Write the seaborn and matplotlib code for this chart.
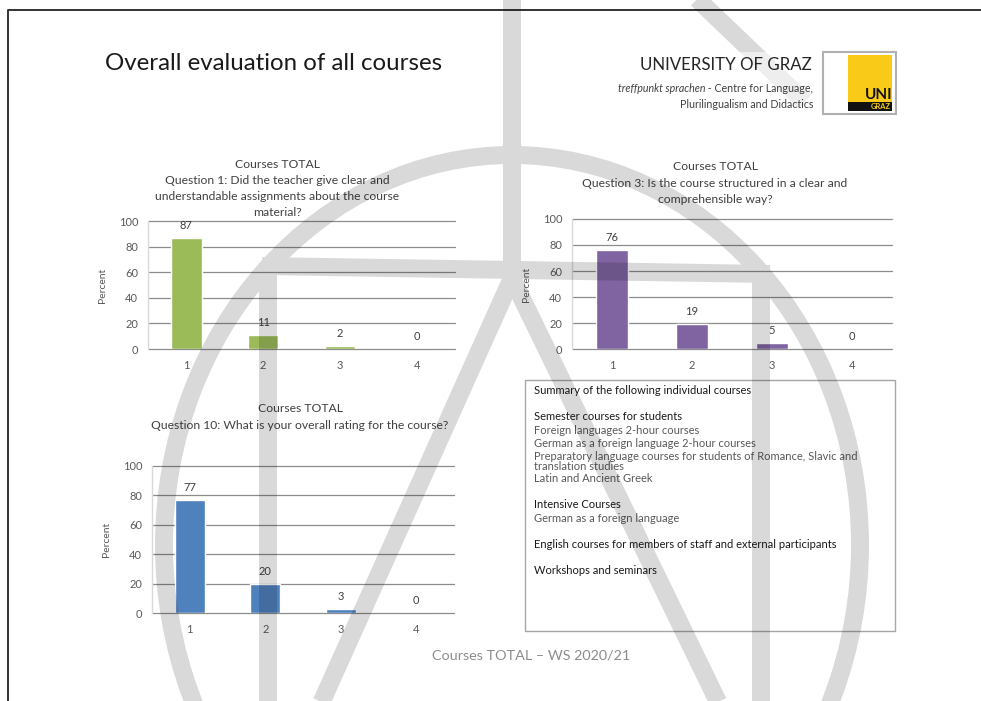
import numpy as np
import matplotlib
matplotlib.use("Agg")
import matplotlib.pyplot as plt
from matplotlib.patches import Rectangle, Ellipse
import seaborn as sns

# rating categories and answer shares (percent)
ratings = ["1", "2", "3", "4"]
q1_values = [87, 11, 2, 0]
q3_values = [76, 19, 5, 0]
q10_values = [77, 20, 3, 0]

q1_title = ["Courses TOTAL", "Question 1: Did the teacher give clear and",
            "understandable assignments about the course", "material?"]
q3_title = ["Courses TOTAL", "Question 3: Is the course structured in a clear and",
            "comprehensible way?"]
q10_title = ["Courses TOTAL", "Question 10: What is your overall rating for the course?"]

summary_lines = [
    ("Summary of the following individual courses", True),
    ("Semester courses for students", True),
    ("Foreign languages 2-hour courses", False),
    ("German as a foreign language 2-hour courses", False),
    ("Preparatory language courses for students of Romance, Slavic and", False),
    ("translation studies", False),
    ("Latin and Ancient Greek", False),
    ("Intensive Courses", True),
    ("German as a foreign language", False),
    ("English courses for members of staff and external participants", True),
    ("Workshops and seminars", True),
]
summary_y = [390, 417, 430, 443, 456, 466, 479, 505, 518, 544, 570]

W, H = 981, 701

sns.set_style("white")
plt.rcParams["font.family"] = ["Lato", "DejaVu Sans"]


def rect(x0, y0, x1, y1):
    return [x0 / W, 1 - y1 / H, (x1 - x0) / W, (y1 - y0) / H]


def ftext(x, y, s, **kw):
    kw.setdefault("va", "center")
    return fig.text(x / W, 1 - y / H, s, **kw)


def draw_chart(box, values, color, title, title_xy):
    ax = fig.add_axes(rect(*box))
    sns.barplot(x=ratings, y=values, color=color, saturation=1, width=0.4, ax=ax)
    ax.set_ylim(0, 100)
    ax.set_yticks(range(0, 101, 20))
    ax.yaxis.grid(True, color="#8c8c8c", lw=0.9)
    ax.set_axisbelow(True)
    for s in ["top", "right", "bottom"]:
        ax.spines[s].set_visible(False)
    ax.spines["left"].set_color("#d9d9d9")
    ax.spines["left"].set_linewidth(1)
    ax.tick_params(axis="y", length=0, labelsize=8, colors="#595959", pad=7)
    ax.tick_params(axis="x", length=0, labelsize=8, colors="#595959", pad=8)
    ax.bar_label(ax.containers[0], fmt="%d", padding=5, fontsize=8, color="#404040")
    ax.set_xlabel("")
    ax.set_ylabel("Percent", fontsize=7.5, color="#595959")
    ax.yaxis.set_label_coords(-41 / (box[2] - box[0]), 0.5)
    for gl in ax.get_ygridlines():
        gl.set_clip_on(False)
    for i, line in enumerate(title):
        ftext(title_xy[0], title_xy[1] + i * 16.2, line, ha="center",
              fontsize=8.7, color="#404040")
    return ax


def watermark_mask():
    f = plt.figure(figsize=(W / 100, H / 100), dpi=100)
    a = f.add_axes([0, 0, 1, 1])
    a.set_xlim(0, W)
    a.set_ylim(H, 0)
    a.axis("off")
    lw = 18 * 72 / 100
    kw = dict(color="black", lw=lw, solid_capstyle="butt")
    a.plot([512, 512], [-5, 276], **kw)
    a.plot([262, 770], [266, 274], **kw)
    a.plot([268, 268], [266, 710], **kw)
    a.plot([761, 761], [274, 710], **kw)
    a.plot([512, 318], [278, 710], **kw)
    a.plot([512, 722], [278, 710], **kw)
    a.plot([693, 805], [-5, 102], **kw)
    a.add_patch(Ellipse((512, 545), 696, 780, fill=False, lw=lw, ec="black"))
    f.canvas.draw()
    buf = np.asarray(f.canvas.buffer_rgba())
    plt.close(f)
    m = 1 - buf[..., 0] / 255.0
    # the header picture sits on a nearly white panel
    m[52:118, 598:900] *= 0.45
    return m


fig = plt.figure(figsize=(W / 100, H / 100), dpi=100)
fig.patch.set_facecolor("white")

# slide frame
frame = fig.add_axes([0, 0, 1, 1], zorder=0)
frame.set_xlim(0, W)
frame.set_ylim(H, 0)
frame.axis("off")
frame.plot([8, 8, W + 5], [H + 5, 10, 10], color="#333333", lw=1.4)

# header
ftext(105, 63, "Overall evaluation of all courses", ha="left", fontsize=17.3,
      color="#1a1a1a")
ftext(812, 65, "UNIVERSITY OF GRAZ", ha="right", fontsize=12.2, color="#262626")
t2 = ftext(813, 89, " - Centre for Language,", ha="right", fontsize=7.7, color="#404040")
ftext(813, 105, "Plurilingualism and Didactics", ha="right", fontsize=7.7, color="#404040")
fig.canvas.draw()
bb = t2.get_window_extent()
fig.text(bb.x0 / W, 1 - 89 / H, "treffpunkt sprachen", ha="right", va="center",
         fontsize=7.7, style="italic", color="#404040")

# logo
frame.add_patch(Rectangle((823, 52), 73, 62, fc="white", ec="#b0b0b0", lw=1.5))
frame.add_patch(Rectangle((848, 55), 44, 56, fc="#F9CB18", ec="none"))
frame.add_patch(Rectangle((848, 102), 44, 9, fc="#111111", ec="none"))
frame.text(892, 95, "UNI", ha="right", va="center", fontsize=11, fontweight="bold",
           color="#111111")
frame.text(891, 106.5, "GRAZ", ha="right", va="center", fontsize=5.4, fontweight="bold",
           color="#F9CB18")

# charts
draw_chart((148, 221, 455, 349), q1_values, "#9BBB59", q1_title, (277, 164))
draw_chart((572, 219, 892, 349), q3_values, "#8064A2", q3_title, (715, 167))
draw_chart((152, 466, 454, 613), q10_values, "#4F81BD", q10_title, (300, 409))

# summary box
frame.add_patch(Rectangle((525, 380), 370, 251, fill=False, ec="#a6a6a6", lw=1))
for (line, head), y in zip(summary_lines, summary_y):
    ftext(534, y, line, ha="left", fontsize=8.0,
          color="#1a1a1a" if head else "#595959")

# footer
ftext(531, 655, "Courses TOTAL \u2013 WS 2020/21", ha="center", fontsize=10.4,
      color="#8c8c8c")

# watermark overlay
mask = watermark_mask()
rgba = np.zeros((mask.shape[0], mask.shape[1], 4))
rgba[..., 3] = mask * 0.15
wm = fig.add_axes([0, 0, 1, 1], zorder=50)
wm.imshow(rgba, extent=(0, W, H, 0), interpolation="nearest", aspect="auto")
wm.axis("off")

fig.savefig("out.png", dpi=100, facecolor="white")
